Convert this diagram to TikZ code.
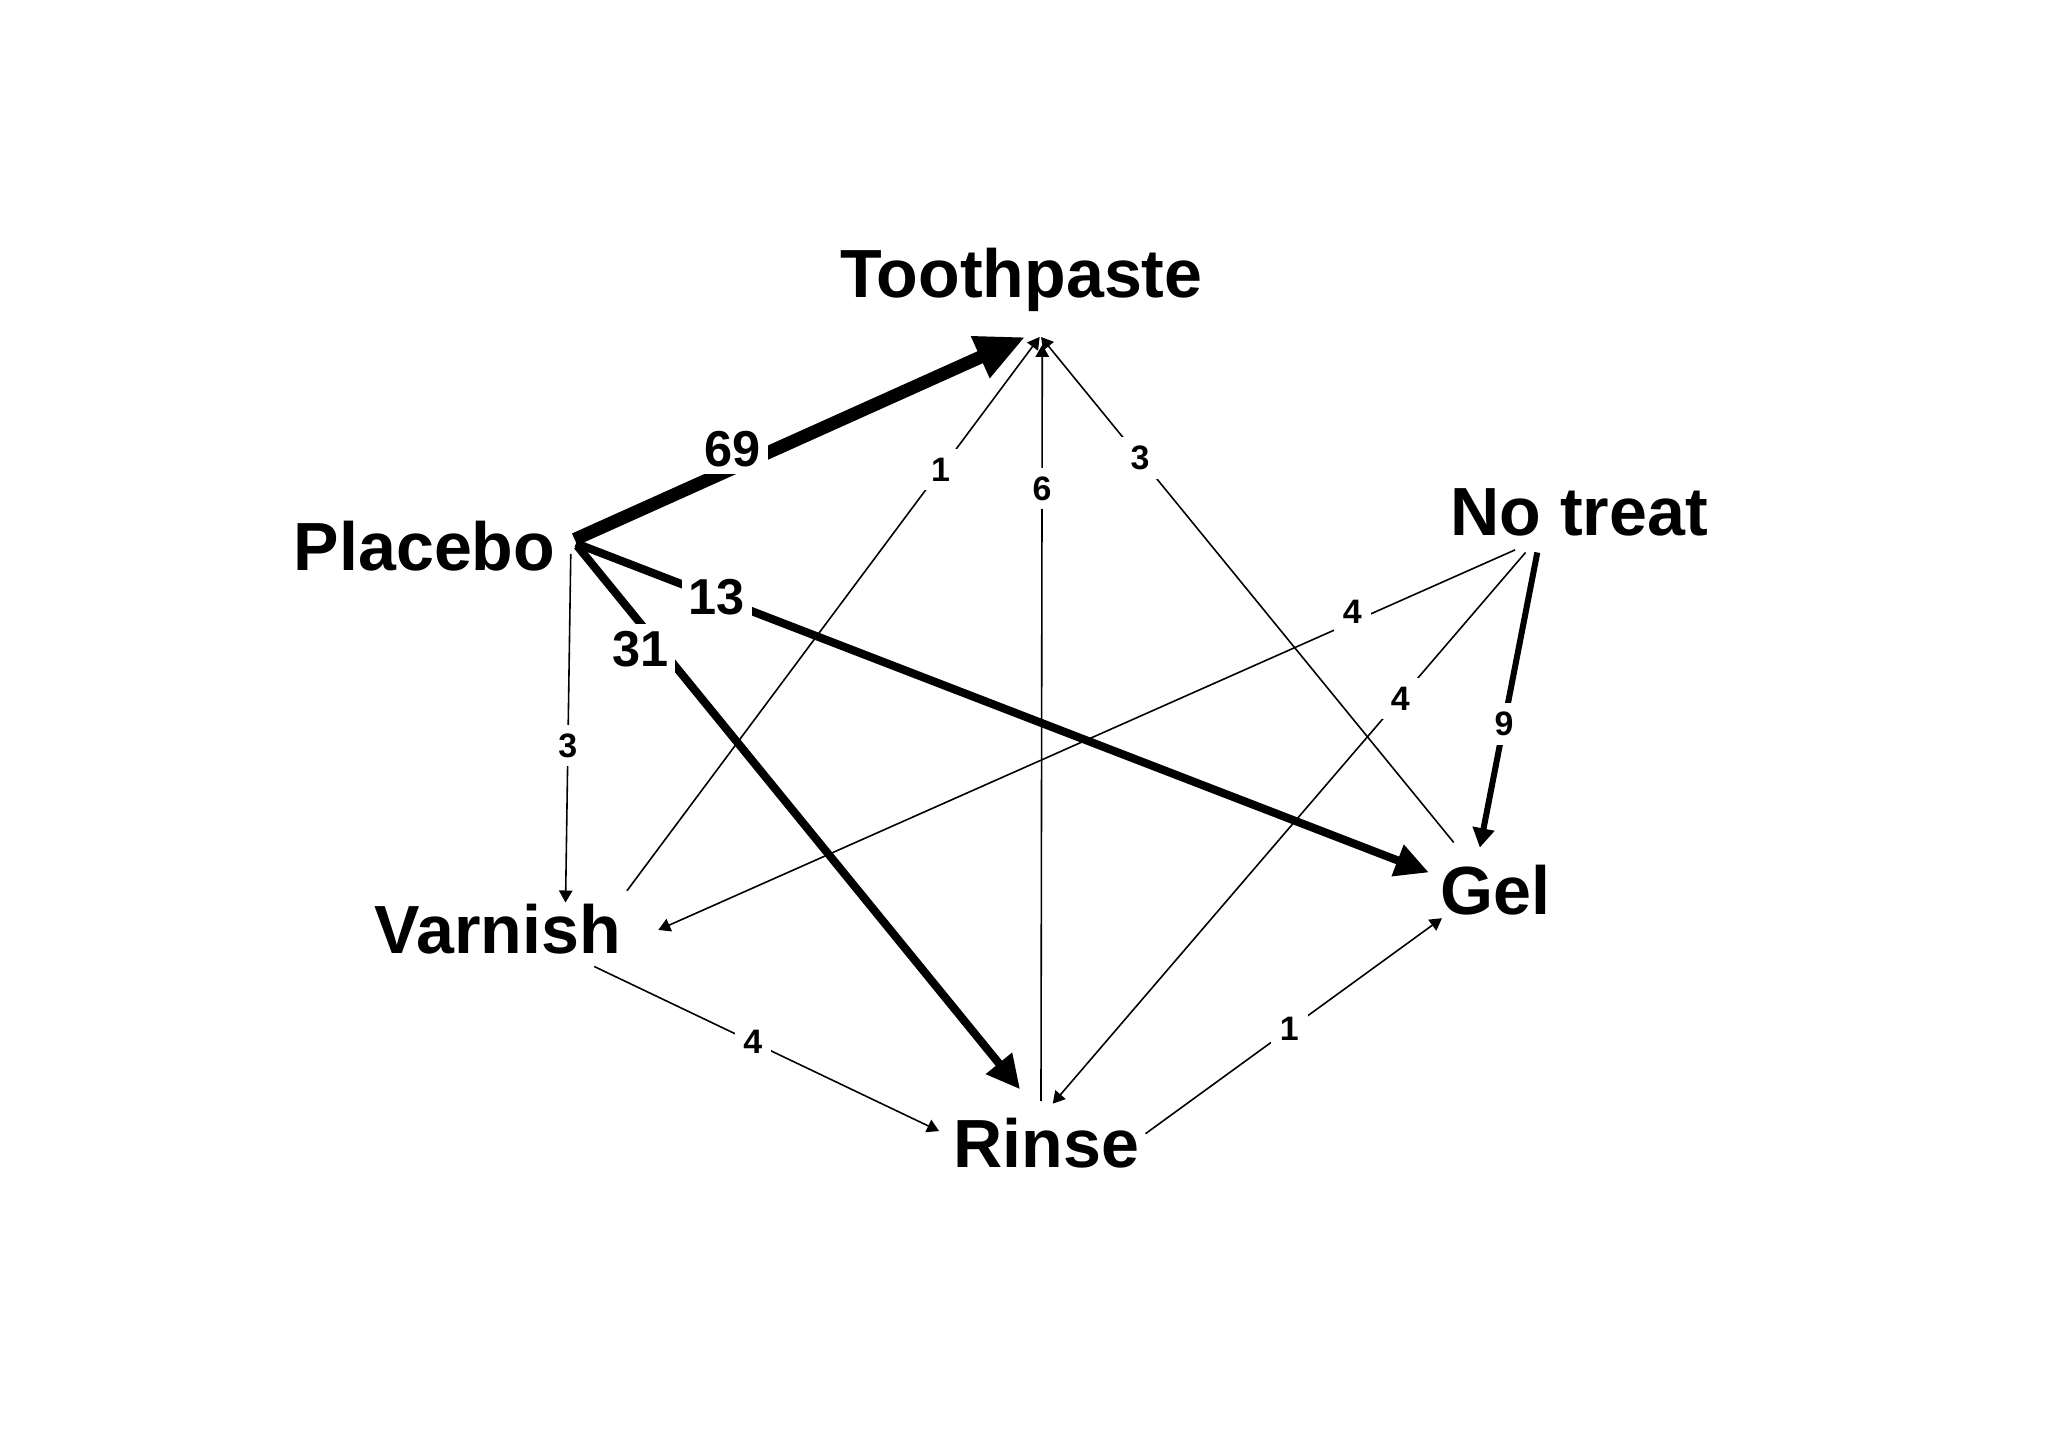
\documentclass[tikz,border=0pt]{standalone}
\usepackage{fontspec}
\setmainfont{Liberation Sans}
\usetikzlibrary{arrows.meta}

\begin{document}
\begin{tikzpicture}[x=0.013cm,y=-0.013cm,
    thin arc/.style={line width=0.45pt,-{Triangle[length=3.4pt,width=3.8pt]}},
    mid arc/.style={line width=1.7pt,-{Triangle[length=5.5pt,width=6pt]}},
    thick arc/.style={line width=2.3pt,-{Triangle[length=9.5pt,width=9pt]}},
    fat arc/.style={line width=3.7pt,-{Triangle[length=14pt,width=12pt]}},
    num/.style={fill=white,inner sep=2.5pt,font=\bfseries\fontsize{9.6}{10}\selectfont},
    bignum/.style={fill=white,inner sep=2pt,font=\bfseries\fontsize{14.3}{15}\selectfont}]

  \useasboundingbox (0,0) rectangle (1568,1109);

  \begin{scope}[every node/.style={anchor=base,inner sep=0pt,font=\bfseries\fontsize{19.3}{22}\selectfont}]
    \node (toot) at (782,228) {Toothpaste};
    \node (plac) at (325,437) {Placebo};
    \node (notr) at (1209,410) {No treat};
    \node (varn) at (381,730) {Varnish};
    \node (gel) at (1145,700) {Gel};
    \node (rins) at (801,894) {Rinse};
  \end{scope}

  \begin{scope}[every edge/.style={draw=black}]
    \path [fat arc] ([shift={(115,-24)}]plac.base) edge node[bignum,pos=.35,yshift=5.5pt] {69} ([shift={(3,30)}]toot.base);
    \path [thick arc] ([shift={(116,-21)}]plac.base) edge node[bignum,pos=.165] {13} ([shift={(-51,-32)}]gel.base);
    \path [thick arc] ([shift={(117,-19)}]plac.base) edge node[bignum,pos=.19,xshift=-6pt] {31} ([shift={(-20,-60)}]rins.base);
    \path [thin arc] ([shift={(112,-13)}]plac.base) edge node[num,pos=.55] {3} ([shift={(52,-39)}]varn.base);
    \path [thin arc] ([shift={(99,-48)}]varn.base) edge node[num,pos=.76] {1} ([shift={(14,30)}]toot.base);
    \path [thin arc] ([shift={(-4,-51)}]rins.base) edge node[num,pos=.81] {6} ([shift={(16,36)}]toot.base);
    \path [thin arc] ([shift={(-32,-55)}]gel.base) edge node[num,pos=.76] {3} ([shift={(15,30)}]toot.base);
    \path [thin arc] ([shift={(-49,11)}]notr.base) edge node[num,pos=.19,yshift=3pt] {4} ([shift={(123,-18)}]varn.base);
    \path [thin arc] ([shift={(-41,13)}]notr.base) edge node[num,pos=.265] {4} ([shift={(5,-49)}]rins.base);
    \path [mid arc] ([shift={(-32,13)}]notr.base) edge node[num,pos=.58] {9} ([shift={(-12,-51)}]gel.base);
    \path [thin arc] ([shift={(74,10)}]varn.base) edge node[num,pos=.46] {4} ([shift={(-82,-28)}]rins.base);
    \path [thin arc] ([shift={(76,-26)}]rins.base) edge node[num,pos=.485] {1} ([shift={(-41,3)}]gel.base);
  \end{scope}
\end{tikzpicture}
\end{document}
